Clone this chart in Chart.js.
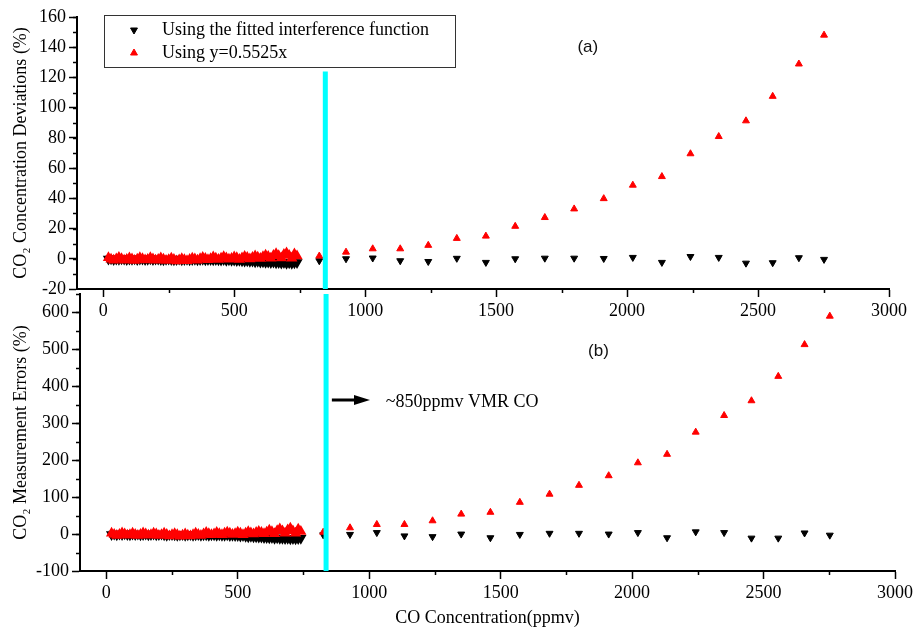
<!DOCTYPE html>
<html>
<head>
<meta charset="utf-8">
<script src="https://cdn.jsdelivr.net/npm/chart.js@4.4.1/dist/chart.umd.min.js"></script>
<style>
  body { margin: 0; background: #fff; }
  #wrap { position: relative; width: 916px; height: 629px; }
  #wrap canvas { position: absolute; left: 0; }
  #chartB { top: 280px; }
  #chartA { top: 0; }
</style>
</head>
<body>
<div id="wrap">
  <canvas id="chartB" width="916" height="349"></canvas>
  <canvas id="chartA" width="916" height="330"></canvas>
</div>
<script>
// CO concentration (ppmv), dense low range and the sparse high range
var lowCO = [20, 30, 40, 50, 60, 70, 80, 90, 100,
             110, 120, 130, 140, 150, 160, 170, 180, 190, 200,
             210, 220, 230, 240, 250, 260, 270, 280, 290, 300,
             310, 320, 330, 340, 350, 360, 370, 380, 390, 400,
             410, 420, 430, 440, 450, 460, 470, 480, 490, 500,
             510, 520, 530, 540, 550, 560, 570, 580, 590, 600,
             610, 620, 630, 640, 650, 660, 670, 680, 690, 700,
             710, 720, 730, 740];
var highCO = [825, 927, 1029, 1134, 1241, 1350, 1461, 1573, 1686, 1798, 1911, 2022, 2133, 2242, 2350, 2454, 2556, 2656, 2752];

// (a) concentration deviations, %
var devFitLow = [-0.2, 0.0, -0.4, -0.1, -0.3, 0.1, -0.2, -0.5, -0.1,
                 -0.3, 0.0, -0.4, -0.2, -0.1, -0.5, -0.3, 0.0, -0.4, -0.2,
                 -0.1, -0.4, -0.6, -0.3, -0.2, -0.5, -0.7, -0.4, -0.2, -0.6,
                 -0.4, -0.3, -0.6, -0.5, -0.3, -0.6, -0.4, -0.3, -0.7, -0.5,
                 -0.5, -0.7, -0.4, -0.6, -0.8, -0.5, -0.9, -0.7, -1.0, -0.8,
                 -1.1, -0.9, -1.3, -1.5, -1.3, -1.7, -1.5, -1.9, -1.7, -2.1,
                 -2.0, -2.3, -2.1, -2.5, -2.2, -2.6, -2.4, -2.8, -2.5, -2.9,
                 -2.6, -3.0, -2.7, -2.4];
var devLinLow = [0.6, -0.3, -1.0, -0.2, 0.8, 0.0, -0.9, -0.4, 0.5,
                 -0.2, -1.1, -0.3, 0.7, 0.1, -0.8, -0.5, 0.6, -0.1, -1.0,
                 -0.4, 0.5, -0.3, -1.2, -0.6, 0.3, -0.5, -1.4, -0.8, 0.0,
                 -0.7, -1.3, -0.4, 0.4, -0.2, -0.9, 0.1, 0.9, 0.2, -0.6,
                 0.0, 1.1, 0.3, -0.5, 0.4, 1.3, 0.5, -0.3, 0.2, 1.2,
                 0.6, -0.4, 0.5, 1.5, 0.8, -0.1, 0.9, 1.8, 1.0, 0.2,
                 1.3, 2.4, 1.5, 0.3, 2.2, 3.4, 2.0, 0.5, 2.8, 3.9,
                 2.1, 0.4, 3.2, 1.8];
var devFitHigh = [-1.3, 0.0, 0.5, -1.3, -1.8, 0.3, -2.4, 0.0, 0.4, 0.4, 0.2, 0.9, -2.4, 1.5, 0.9, -2.9, -2.6, 0.7, -0.4];
var devLinHigh = [1.8, 4.4, 6.6, 6.6, 8.9, 13.5, 15.0, 21.5, 27.3, 33.0, 39.8, 48.7, 54.4, 69.5, 80.9, 91.3, 107.5, 128.9, 148.0];

// (b) measurement errors, %
var errFitLow = [-1, 0, -2, 0, -1, 1, -1, -2, 0,
                 -1, 0, -2, -1, 0, -2, -1, 0, -2, -1,
                 0, -2, -3, -1, -1, -2, -3, -2, -1, -3,
                 -2, -1, -3, -2, -1, -3, -2, -2, -3, -2,
                 -2, -3, -2, -3, -3, -2, -4, -3, -4, -4,
                 -5, -4, -6, -7, -6, -7, -7, -8, -8, -9,
                 -9, -10, -9, -11, -10, -11, -11, -12, -11, -13,
                 -12, -13, -12, -11];
var errLinLow = [2, -1, -4, -1, 3, 0, -3, -2, 2,
                 -1, -4, -1, 3, 0, -3, -2, 2, 0, -4,
                 -2, 2, -1, -5, -2, 1, -2, -6, -3, 0,
                 -3, -5, -2, 2, -1, -4, 0, 4, 1, -2,
                 0, 4, 1, -2, 2, 5, 2, -1, 1, 5,
                 2, -2, 2, 6, 3, 0, 4, 7, 4, 1,
                 5, 10, 6, 1, 9, 14, 8, 2, 11, 16,
                 8, 2, 13, 7];
var errFitHigh = [-2, -1, 4, -5, -7, 0, -10, -1, 2, 2, 0, 4, -10, 6, 4, -11, -11, 3, -3];
var errLinHigh = [5, 17, 26, 26, 36, 54, 59, 86, 108, 132, 158, 193, 216, 276, 321, 361, 427, 513, 590];

var xTickValues = [0, 500, 1000, 1500, 2000, 2500, 3000];
var labels = ['Using the fitted interference function', 'Using y=0.5525x'];
var vmrLineTop = [-20, 124];
var vmrLineBottom = [-100, 650];

var serif = '"Liberation Serif", "Times New Roman", serif';
var sans = '"Liberation Sans", Arial, sans-serif';

function pts(xs, ys) {
  return xs.map(function (x, i) { return { x: x, y: ys[i] }; });
}

// the crowded low-range markers overlap into one thick band
function markerSize(c) { return c.dataIndex < lowCO.length ? 4.5 : 4; }
function markerEdge(c) { return c.dataIndex < lowCO.length ? 2 : 1; }

function seriesSets(lowFit, highFit, lowLin, highLin, vX, vY) {
  return [
    { type: 'line', data: [{ x: vX, y: vY[0] }, { x: vX, y: vY[1] }], borderColor: '#00ffff',
      borderWidth: 5, pointRadius: 0, order: 0 },
    { label: labels[1], data: pts(lowCO, lowLin).concat(pts(highCO, highLin)), pointStyle: 'triangle',
      backgroundColor: '#ff0000', borderColor: '#ff0000', pointRadius: markerSize, pointBorderWidth: markerEdge, order: 1 },
    { label: labels[0], data: pts(lowCO, lowFit).concat(pts(highCO, highFit)), pointStyle: 'triangle',
      pointRotation: 180, backgroundColor: '#000', borderColor: '#000', pointRadius: markerSize,
      pointBorderWidth: markerEdge, order: 2 }
  ];
}

// short minor ticks between the labelled ones
var minorTicks = {
  id: 'minorTicks',
  afterDraw: function (chart, args, o) {
    var ctx = chart.ctx, x = chart.scales.x, y = chart.scales.y, v;
    ctx.save();
    ctx.strokeStyle = '#000';
    ctx.lineWidth = 1.5;
    ctx.beginPath();
    for (v = 250; v < x.max; v += 500) {
      var px = Math.round(x.getPixelForValue(v)) + 0.5;
      ctx.moveTo(px, x.top); ctx.lineTo(px, x.top + 4);
    }
    for (v = o.yFirst; v <= y.max; v += o.yStep) {
      var py = Math.round(y.getPixelForValue(v)) + 0.5;
      ctx.moveTo(y.right, py); ctx.lineTo(y.right - 4, py);
    }
    ctx.stroke();
    ctx.restore();
  }
};

var notes = {
  id: 'notes',
  afterDraw: function (chart, args, o) {
    var ctx = chart.ctx, x = chart.scales.x, y = chart.scales.y, a = chart.chartArea;
    ctx.save();
    ctx.fillStyle = '#111';
    ctx.textBaseline = 'middle';
    ctx.font = '17px ' + sans;
    ctx.textAlign = 'center';
    ctx.fillText(o.tag, x.getPixelForValue(o.tagX), y.getPixelForValue(o.tagY));

    if (o.legend) {
      var L = a.left + 27, T = a.top - 2;
      ctx.strokeStyle = '#333';
      ctx.lineWidth = 1;
      ctx.strokeRect(L + 0.5, T + 0.5, 351, 52);
      var rows = [chart.data.datasets[2], chart.data.datasets[1]];
      ctx.font = '18px ' + serif;
      ctx.textAlign = 'left';
      rows.forEach(function (ds, i) {
        var cy = T + 15 + i * 23;
        ctx.fillStyle = ds.backgroundColor;
        ctx.strokeStyle = ds.borderColor;
        ctx.lineWidth = 1;
        Chart.helpers.drawPoint(ctx, { pointStyle: 'triangle', radius: 4, rotation: ds.pointRotation || 0, borderWidth: 1 },
          L + 30, cy);
        ctx.fillStyle = '#000';
        ctx.fillText(ds.label, L + 58, cy);
      });
    }

    if (o.arrow) {
      var x0 = x.getPixelForValue(858), x1 = x.getPixelForValue(1003), ay = Math.round(y.getPixelForValue(363));
      ctx.fillStyle = '#000';
      ctx.fillRect(x0, ay - 1.5, x1 - x0 - 12, 3);
      ctx.beginPath();
      ctx.moveTo(x1, ay); ctx.lineTo(x1 - 16, ay - 5); ctx.lineTo(x1 - 16, ay + 5); ctx.closePath();
      ctx.fill();
      ctx.font = '18px ' + serif;
      ctx.textAlign = 'left';
      ctx.fillText('~850ppmv VMR CO', x.getPixelForValue(1063), y.getPixelForValue(358));
    }
    ctx.restore();
  }
};

function makeChart(id, opts) {
  var tickFont = { family: serif, size: 18 };
  return new Chart(document.getElementById(id), {
    type: 'scatter',
    data: { datasets: opts.datasets },
    plugins: [minorTicks, notes],
    options: {
      responsive: false,
      animation: false,
      layout: { padding: opts.padding },
      plugins: {
        legend: { display: false },
        tooltip: { enabled: false },
        minorTicks: { yFirst: opts.yMinorFirst, yStep: opts.yStep },
        notes: opts.notes
      },
      scales: {
        x: {
          type: 'linear', min: -100, max: 3000,
          afterBuildTicks: function (s) { s.ticks = xTickValues.map(function (v) { return { value: v }; }); },
          afterFit: function (s) { s.height = opts.xHeight; },
          border: { display: true, color: '#000', width: 2 },
          grid: { drawOnChartArea: false, tickLength: 8, tickWidth: 1.5, tickColor: '#000' },
          ticks: { maxRotation: 0, autoSkip: false, padding: 3, color: '#000', font: tickFont,
                   callback: function (v) { return String(v); } },
          title: { display: !!opts.xTitle, text: opts.xTitle || '', color: '#000', font: tickFont, padding: 0 }
        },
        y: {
          type: 'linear', min: opts.yMin, max: opts.yMax,
          afterFit: function (s) { s.width = opts.yWidth; },
          border: { display: true, color: '#000', width: 2 },
          grid: { drawOnChartArea: false, tickLength: 8, tickWidth: 1.5, tickColor: '#000' },
          ticks: { stepSize: opts.yStep * 2, includeBounds: false, autoSkip: false, padding: 3,
                   color: '#000', font: tickFont, callback: function (v) { return String(v); } },
          title: { display: true, text: opts.yTitle, color: '#000', font: tickFont, padding: { top: 10, bottom: 0 } }
        }
      }
    }
  });
}

makeChart('chartB', {
  datasets: seriesSets(errFitLow, errFitHigh, errLinLow, errLinHigh, 836, vmrLineBottom),
  padding: { left: 0, right: 20, top: 14, bottom: 0 },
  yMin: -100, yMax: 650, yStep: 50, yMinorFirst: -50,
  yWidth: 80, xHeight: 58,
  yTitle: 'CO\u2082 Measurement Errors (%)',
  xTitle: 'CO Concentration(ppmv)',
  notes: { tag: '(b)', tagX: 1872, tagY: 496, arrow: true }
});

makeChart('chartA', {
  datasets: seriesSets(devFitLow, devFitHigh, devLinLow, devLinHigh, 848, vmrLineTop),
  padding: { left: 0, right: 27, top: 17, bottom: 0 },
  yMin: -20, yMax: 160, yStep: 10, yMinorFirst: -10,
  yWidth: 77, xHeight: 41,
  yTitle: 'CO\u2082 Concentration Deviations (%)',
  notes: { tag: '(a)', tagX: 1850, tagY: 140, legend: true }
});
</script>
</body>
</html>
